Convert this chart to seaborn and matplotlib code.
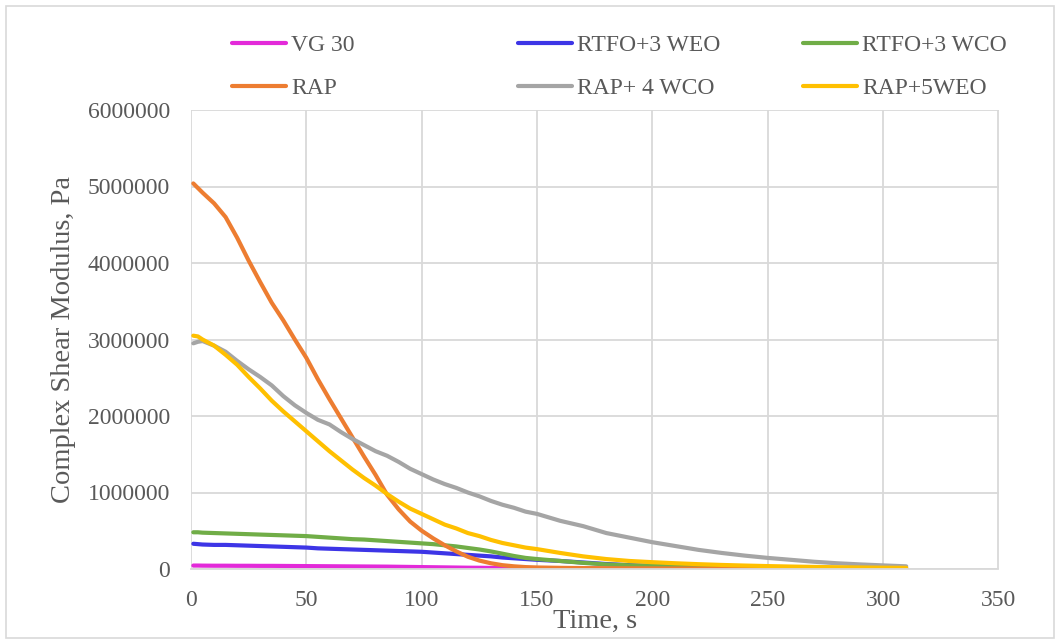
import numpy as np
import pandas as pd
import matplotlib
matplotlib.use("Agg")
import matplotlib.pyplot as plt
from matplotlib.patches import Rectangle
import seaborn as sns

# Sampling times (s)
time_s = [1, 3, 5, 10, 15, 20, 25, 30, 35, 40, 45, 50, 55, 60, 65, 70, 75, 80,
          85, 90, 95, 100, 105, 110, 115, 120, 125, 130, 135, 140, 145, 150,
          160, 170, 180, 190, 200, 210, 220, 230, 240, 250, 260, 270, 280,
          290, 300, 310]

series_names = ["VG 30", "RTFO+3 WEO", "RTFO+3 WCO", "RAP", "RAP+ 4 WCO", "RAP+5WEO"]

# Complex shear modulus (Pa)
vg30 = [45000, 45000, 44000, 43000, 43000, 42000, 42000, 41000, 41000, 40000,
        39000, 38000, 37000, 36000, 35000, 34000, 33000, 32000, 31000, 29000,
        27000, 25000, 23000, 21000, 19000, 17000, 16000, 14000, 13000, 12000,
        11000, 10000, 8500, 7500, 6500, 5500, 5000, 4500, 4000, 3700, 3400,
        3000, 2800, 2600, 2400, 2200, 2100, 2000]
rtfo_weo = [330000, 325000, 320000, 315000, 315000, 310000, 305000, 300000,
            295000, 290000, 285000, 280000, 270000, 265000, 260000, 255000,
            250000, 245000, 240000, 235000, 230000, 225000, 215000, 205000,
            195000, 185000, 175000, 165000, 150000, 140000, 130000, 120000,
            105000, 85000, 65000, 50000, 40000, 30000, 24000, 19000, 15000,
            12000, 10000, 8000, 7000, 6000, 5000, 4000]
rtfo_wco = [480000, 480000, 475000, 470000, 465000, 460000, 455000, 450000,
            445000, 440000, 435000, 430000, 420000, 410000, 400000, 390000,
            385000, 375000, 365000, 355000, 345000, 335000, 325000, 310000,
            295000, 275000, 255000, 230000, 200000, 170000, 145000, 130000,
            105000, 80000, 60000, 48000, 40000, 32000, 25000, 20000, 16000,
            13000, 11000, 9000, 8000, 7000, 6000, 5000]
rap = [5040000, 4980000, 4920000, 4780000, 4600000, 4330000, 4030000, 3750000,
       3480000, 3250000, 3000000, 2760000, 2480000, 2220000, 1970000, 1720000,
       1470000, 1230000, 970000, 780000, 620000, 500000, 400000, 310000,
       230000, 160000, 110000, 75000, 50000, 35000, 25000, 20000, 15000,
       12000, 10000, 9000, 8000, 7000, 6500, 6000, 5500, 5000, 4500, 4000,
       3500, 3200, 3000, 2800]
rap_wco = [2950000, 2970000, 2980000, 2920000, 2840000, 2720000, 2610000,
           2510000, 2400000, 2260000, 2140000, 2040000, 1950000, 1890000,
           1790000, 1700000, 1620000, 1540000, 1480000, 1400000, 1310000,
           1240000, 1170000, 1110000, 1060000, 1000000, 950000, 890000,
           840000, 800000, 750000, 720000, 630000, 560000, 470000, 410000,
           350000, 300000, 250000, 210000, 175000, 145000, 120000, 95000,
           75000, 60000, 47000, 35000]
rap_weo = [3050000, 3040000, 3000000, 2920000, 2800000, 2670000, 2510000,
           2360000, 2200000, 2060000, 1930000, 1800000, 1670000, 1540000,
           1420000, 1300000, 1190000, 1090000, 980000, 880000, 790000,
           720000, 650000, 580000, 530000, 470000, 430000, 380000, 340000,
           310000, 280000, 260000, 210000, 165000, 130000, 105000, 89000,
           75000, 63000, 53000, 45000, 38000, 32000, 27000, 23000, 20000,
           17000, 15000]

series_values = [vg30, rtfo_weo, rtfo_wco, rap, rap_wco, rap_weo]
series_colors = ["#E32AD9", "#3D35E6", "#70AD47", "#ED7D31", "#A5A5A5", "#FFC000"]

x_ticks = [0, 50, 100, 150, 200, 250, 300, 350]
y_ticks = [0, 1000000, 2000000, 3000000, 4000000, 5000000, 6000000]

df = pd.concat(
    [pd.DataFrame({"Time": time_s, "G": vals, "Series": name})
     for name, vals in zip(series_names, series_values)],
    ignore_index=True,
)

sns.set_theme(style="white")
plt.rcParams["font.family"] = ["Liberation Serif", "DejaVu Serif"]

fig = plt.figure(figsize=(10.55, 6.39), dpi=100)
ax = fig.add_axes([191 / 1055, 1 - 569 / 639, 807.5 / 1055, 459 / 639])

sns.lineplot(
    data=df, x="Time", y="G", hue="Series", hue_order=series_names,
    palette=dict(zip(series_names, series_colors)), linewidth=3.0,
    legend=False, ax=ax, solid_capstyle="round", solid_joinstyle="round",
)

grid_c = "#D9D9D9"
ax.set_xlim(0, 350)
ax.set_ylim(0, 6000000)
ax.set_xticks(x_ticks)
ax.set_yticks(y_ticks)
ax.set_xticklabels([str(v) for v in x_ticks])
ax.set_yticklabels([str(v) for v in y_ticks])
ax.grid(True, color=grid_c, linewidth=1.3)
ax.set_axisbelow(True)
for side in ["top", "right", "left"]:
    ax.spines[side].set_visible(False)
ax.spines["bottom"].set_color(grid_c)
ax.spines["bottom"].set_linewidth(1.3)
ax.tick_params(axis="both", length=0, labelsize=17, colors="#595959")
ax.tick_params(axis="y", pad=15)
ax.tick_params(axis="x", pad=15)

ax.set_xlabel("Time, s", fontsize=20.5, color="#595959")
ax.set_ylabel("Complex Shear Modulus, Pa", fontsize=20.5, color="#595959")
ax.xaxis.label.set_va("center")
ax.xaxis.set_label_coords(0.5, (569 - 621) / 459)
ax.yaxis.label.set_va("center")
ax.yaxis.label.set_ha("center")
ax.yaxis.set_label_coords((64 - 191) / 807.5, 0.5)

# Legend: three columns, two rows, each entry placed on its own
lines = ax.get_lines()
entry_x = [232, 518, 803, 232, 518, 803]
entry_y = [45, 45, 45, 88, 88, 88]
for line, name, ex, ey in zip(lines, series_names, entry_x, entry_y):
    fig.legend(
        [line], [name], loc="center left",
        bbox_to_anchor=(ex / 1055, 1 - ey / 639),
        frameon=False, fontsize=17, handlelength=2.3, handletextpad=0.2,
        borderpad=0, borderaxespad=0, labelcolor="#595959",
    )

# Chart frame
fig.patches.append(Rectangle((6 / 1055, 1 / 639), 1048 / 1055, 632 / 639,
                             transform=fig.transFigure, fill=False,
                             edgecolor=grid_c, linewidth=1.2))

fig.savefig("out.png", dpi=100, facecolor="white")
